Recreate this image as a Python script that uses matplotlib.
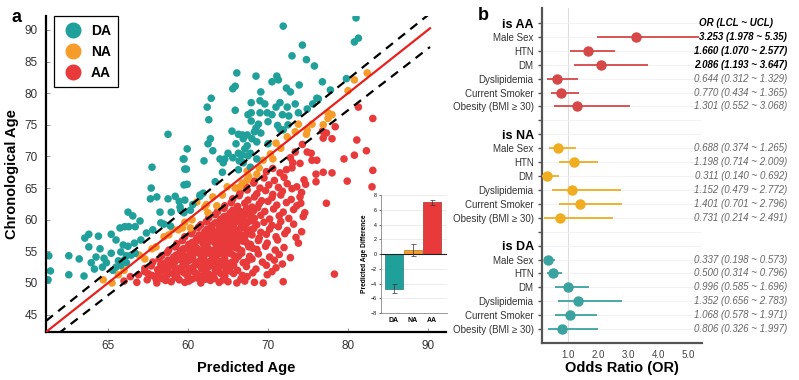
import numpy as np
import matplotlib
matplotlib.use('Agg')
import matplotlib.pyplot as plt
import matplotlib.transforms as mtransforms
from matplotlib.lines import Line2D

plt.rcParams['font.family'] = ['Liberation Sans', 'DejaVu Sans']

# ---- panel a: predicted vs chronological age ----
da_pts = [
    (71.9, 90.6), (81.0, 91.9), (81.3, 88.7), (80.8, 88.1), (74.3, 87.6), (73.0, 85.9),
    (74.8, 85.3), (75.8, 84.3), (66.1, 83.2), (68.5, 82.7), (71.1, 82.7), (71.3, 82.1),
    (70.5, 81.8), (65.6, 80.7), (65.9, 81.1), (69.1, 80.2), (72.3, 80.8), (72.8, 80.2),
    (73.9, 81.3), (62.9, 79.2), (62.4, 77.8), (65.9, 77.3), (67.9, 78.5), (69.0, 78.8),
    (69.6, 78.3), (71.5, 78.5), (71.0, 77.8), (72.4, 77.8), (73.4, 78.3), (75.6, 78.3),
    (76.3, 79.1), (62.6, 75.8), (67.5, 76.6), (67.9, 76.9), (69.0, 76.9), (69.9, 76.9),
    (70.5, 76.6), (71.8, 76.6), (72.6, 76.4), (73.8, 76.9), (74.9, 77.5), (67.9, 75.6),
    (68.8, 75.1), (68.5, 74.5), (70.0, 75.5), (69.1, 73.7), (68.3, 73.9), (71.5, 74.3),
    (72.5, 75.0), (71.9, 74.2), (65.5, 74.0), (66.3, 73.5), (66.8, 73.4), (67.4, 73.4),
    (68.0, 72.8), (66.0, 72.0), (66.9, 72.8), (67.4, 71.7), (68.6, 72.3), (70.0, 72.0),
    (62.8, 72.8), (62.5, 72.0), (63.1, 70.9), (59.9, 71.2), (59.5, 69.6), (62.0, 69.3),
    (59.8, 68.0), (64.3, 67.5), (65.0, 70.5), (64.6, 69.6), (64.0, 69.6), (64.4, 69.0),
    (65.6, 69.8), (66.3, 70.5), (66.8, 70.2), (67.1, 71.2), (67.5, 70.1), (66.4, 69.3),
    (66.9, 69.0), (67.8, 70.5), (66.3, 67.9), (67.8, 68.3), (68.6, 69.6), (71.2, 74.9),
    (76.8, 81.8), (77.8, 80.5), (79.8, 82.3), (76.1, 79.2), (57.5, 73.5), (55.5, 68.3),
    (59.4, 69.6), (59.6, 68.0),
    (55.4, 65.0), (55.3, 63.3), (57.5, 63.3), (58.9, 62.9), (59.5, 65.5), (52.5, 61.2),
    (53.1, 60.6), (56.5, 61.2), (57.9, 61.2), (59.1, 61.5), (51.5, 58.7), (52.1, 58.9),
    (52.6, 58.9), (53.4, 58.9), (54.0, 59.8), (56.6, 59.5), (57.0, 59.3), (55.6, 58.4),
    (54.8, 57.9), (47.1, 57.1), (47.6, 57.7), (48.8, 57.4), (50.4, 57.7), (51.0, 56.8),
    (51.9, 56.0), (52.5, 55.8), (53.3, 56.3), (54.1, 56.8), (47.6, 55.7), (49.0, 55.4),
    (50.4, 54.7), (51.6, 54.9), (52.3, 54.3), (52.9, 54.4), (53.4, 54.7), (52.0, 53.6),
    (51.3, 53.5), (45.1, 54.3), (46.4, 53.8), (47.9, 53.2), (48.5, 54.1), (49.5, 53.9),
    (49.8, 53.2), (49.3, 52.5), (48.3, 52.2), (42.6, 54.3), (42.8, 51.9), (42.5, 50.5),
    (45.1, 51.3), (47.0, 51.1), (50.6, 52.0), (51.0, 52.5), (51.6, 52.8), (52.3, 53.2),
    (56.1, 63.6), (58.4, 63.7), (59.6, 63.1), (59.0, 62.0), (61.5, 63.7), (61.9, 64.2),
    (57.8, 59.0), (59.9, 65.6), (63.4, 66.0), (61.5, 63.9), (60.3, 61.5), (60.6, 62.4),
    (59.5, 61.1),
]

na_pts = [
    (82.4, 83.2), (80.8, 82.1), (80.0, 80.4), (77.5, 76.9), (78.0, 76.6), (77.5, 76.0),
    (76.9, 75.0), (75.5, 75.1), (73.8, 75.1), (74.9, 74.2), (74.8, 73.5), (73.4, 73.9),
    (72.4, 73.1), (71.0, 72.1), (71.6, 71.3), (70.3, 70.4), (70.6, 69.6), (69.4, 69.4),
    (68.9, 68.2), (68.6, 67.2), (67.6, 66.8), (67.4, 66.3), (66.8, 65.8), (64.9, 65.2),
    (65.9, 65.0), (66.5, 65.2), (67.4, 67.7), (64.3, 63.9), (63.1, 63.6), (62.5, 61.1),
    (62.1, 62.0), (61.1, 62.8), (60.5, 60.0), (60.3, 58.7), (59.3, 58.7), (59.6, 59.6),
    (58.8, 58.4), (58.1, 58.5), (57.6, 57.6), (57.0, 57.3), (56.0, 55.7), (55.5, 55.4),
    (54.6, 53.8), (53.9, 54.4), (52.0, 52.0), (51.3, 51.3), (50.5, 50.0), (49.4, 50.5),
    (63.6, 62.2), (62.3, 62.4),
]

aa_pts = [
    (52.0, 50.3), (52.8, 51.0), (53.6, 50.1), (54.9, 50.5), (56.1, 50.0), (56.8, 50.7),
    (57.9, 50.2), (58.4, 50.9), (59.6, 50.1), (60.5, 50.6), (61.6, 50.0), (62.8, 50.4),
    (63.9, 50.1), (65.0, 50.2), (66.1, 50.0), (67.1, 50.3), (68.3, 50.1), (69.4, 50.0),
    (71.9, 50.2),
    (53.8, 51.3), (54.6, 51.8), (55.5, 51.2), (56.4, 51.6), (57.3, 51.1), (58.1, 51.5),
    (59.0, 51.9), (59.9, 51.2), (60.8, 51.7), (61.7, 51.0), (62.6, 51.4), (63.6, 51.8),
    (64.6, 51.1), (65.7, 51.5), (66.8, 51.2), (68.1, 51.6), (69.9, 51.3),
    (54.6, 52.3), (55.4, 52.7), (56.2, 52.1), (57.0, 52.5), (57.8, 52.9), (58.6, 52.2),
    (59.3, 52.6), (60.1, 52.0), (60.9, 52.8), (61.7, 52.3), (62.6, 52.6), (63.4, 52.1),
    (64.3, 52.7), (65.2, 52.4), (66.2, 52.0), (67.3, 52.6), (68.5, 52.2), (69.8, 52.8),
    (71.0, 52.4),
    (55.6, 53.3), (56.4, 53.8), (57.1, 53.1), (57.9, 53.5), (58.7, 53.9), (59.4, 53.2),
    (60.2, 53.6), (61.0, 53.0), (61.8, 53.7), (62.5, 53.3), (63.3, 53.9), (64.1, 53.4),
    (65.0, 53.0), (65.9, 53.6), (66.9, 53.2), (68.0, 53.8), (69.3, 53.3), (70.8, 53.6),
    (56.7, 54.3), (57.4, 54.8), (58.2, 54.1), (58.9, 54.6), (59.7, 54.0), (60.4, 54.5),
    (61.2, 54.9), (62.0, 54.2), (62.7, 54.7), (63.5, 54.1), (64.2, 54.6), (65.0, 54.9),
    (65.8, 54.3), (66.7, 54.7), (67.7, 54.2), (68.8, 54.6), (70.2, 54.1), (71.4, 54.5),
    (57.6, 55.2), (58.4, 55.7), (59.1, 55.1), (59.8, 55.5), (60.6, 55.9), (61.3, 55.3),
    (62.1, 55.8), (62.8, 55.0), (63.6, 55.5), (64.3, 55.9), (65.1, 55.2), (65.9, 55.6),
    (66.7, 55.1), (67.6, 55.7), (68.6, 55.3), (69.7, 55.8), (70.9, 55.2), (72.0, 55.6),
    (58.6, 56.2), (59.3, 56.7), (60.1, 56.1), (60.8, 56.5), (61.6, 56.9), (62.3, 56.3),
    (63.0, 56.8), (63.8, 56.0), (64.5, 56.5), (65.3, 56.9), (66.1, 56.2), (66.9, 56.6),
    (67.8, 56.1), (68.8, 56.7), (69.9, 56.3), (71.2, 56.8),
    (59.6, 57.3), (60.4, 57.8), (61.1, 57.1), (61.8, 57.5), (62.5, 57.9), (63.3, 57.2),
    (64.0, 57.7), (64.8, 57.0), (65.5, 57.4), (66.3, 57.9), (67.1, 57.3), (68.0, 57.6),
    (68.9, 57.1), (69.8, 57.7), (71.0, 57.3), (72.1, 57.8),
    (60.6, 58.3), (61.3, 58.8), (62.1, 58.1), (62.8, 58.6), (63.5, 58.0), (64.3, 58.5),
    (65.0, 58.9), (65.8, 58.2), (66.6, 58.7), (67.4, 58.1), (68.2, 58.6), (69.1, 58.0),
    (70.2, 58.5), (71.3, 58.9), (72.4, 58.3),
    (61.6, 59.2), (62.3, 59.7), (63.0, 59.1), (63.8, 59.6), (64.6, 59.0), (65.3, 59.5),
    (66.1, 59.9), (66.9, 59.3), (67.7, 59.8), (68.6, 59.2), (69.5, 59.6), (70.5, 59.1),
    (71.6, 59.7), (73.2, 59.3),
    (62.6, 60.3), (63.4, 60.8), (64.1, 60.1), (64.9, 60.6), (65.7, 60.0), (66.6, 60.5),
    (67.4, 60.9), (68.3, 60.2), (69.1, 60.7), (70.2, 60.1), (71.4, 60.6), (72.6, 60.2),
    (74.4, 60.5),
    (63.7, 61.3), (64.5, 61.8), (65.3, 61.1), (66.0, 61.6), (66.9, 61.0), (67.8, 61.5),
    (68.7, 61.9), (69.6, 61.3), (70.7, 61.7), (71.9, 61.2), (73.2, 61.6), (74.6, 61.1),
    (64.6, 62.2), (65.4, 62.7), (66.2, 62.1), (67.1, 62.6), (68.0, 62.0), (68.9, 62.5),
    (70.0, 62.9), (71.1, 62.3), (72.3, 62.7), (73.6, 62.2), (74.1, 62.6),
    (65.6, 63.3), (66.4, 63.8), (67.5, 63.1), (68.3, 63.6), (69.2, 63.0), (70.5, 63.5),
    (71.6, 63.9), (72.9, 63.2), (74.0, 63.6),
    (66.5, 64.2), (67.4, 64.7), (68.6, 64.1), (69.7, 64.6), (70.6, 64.0), (71.8, 64.5),
    (73.0, 64.9), (74.2, 64.3),
    (67.3, 65.2), (68.2, 65.8), (69.0, 65.0), (70.1, 65.5), (71.3, 65.1), (72.4, 65.7),
    (73.6, 65.2), (74.7, 65.6),
    (68.3, 66.1), (69.5, 66.6), (70.8, 66.2), (72.0, 66.7), (74.5, 66.3),
    (69.8, 67.6), (70.6, 68.1), (71.5, 67.4), (72.3, 67.9), (73.0, 68.2), (73.1, 69.0),
    (74.0, 68.9), (72.8, 69.8), (73.4, 70.7), (74.3, 71.9), (74.9, 70.7), (75.5, 69.4),
    (76.0, 67.2), (76.9, 67.5), (78.0, 67.4), (83.1, 67.8), (76.0, 66.0), (79.9, 66.1),
    (83.0, 65.2), (77.3, 62.6), (78.3, 51.4), (81.3, 77.8), (83.1, 76.0), (78.4, 74.7),
    (76.8, 74.0), (77.3, 73.7), (76.9, 72.9), (78.0, 72.8), (81.1, 72.6), (82.3, 70.9),
    (80.8, 70.2), (79.5, 69.6), (76.1, 69.4), (75.4, 70.5),
    # the dense core of the cluster
    (56.0, 50.6), (57.2, 50.4), (58.9, 50.5), (60.1, 50.3), (61.1, 50.8), (62.2, 50.6),
    (63.3, 50.7), (64.4, 50.5), (66.6, 50.6),
    (55.0, 51.5), (56.0, 51.0), (56.9, 51.9), (57.7, 51.6), (58.6, 51.0), (59.5, 51.6),
    (60.3, 51.9), (61.2, 51.4), (62.1, 51.8), (63.1, 51.2), (64.1, 51.5), (65.2, 51.9),
    (67.4, 51.0),
    (56.6, 52.9), (57.4, 52.2), (58.2, 52.6), (59.0, 52.3), (59.7, 52.9), (60.5, 52.4),
    (61.3, 52.9), (62.2, 52.0), (63.0, 52.8), (63.8, 52.4), (64.8, 52.1), (65.7, 52.8),
    (57.5, 53.6), (58.3, 53.2), (59.0, 53.7), (59.8, 53.4), (60.6, 53.9), (61.4, 53.4),
    (62.1, 53.1), (62.9, 53.6), (63.7, 53.1), (64.6, 53.7), (65.5, 53.3), (67.4, 53.4),
    (58.5, 54.4), (59.3, 54.8), (60.0, 54.3), (60.8, 54.7), (61.6, 54.4), (62.4, 54.9),
    (63.1, 54.4), (63.9, 54.8), (64.6, 54.3), (65.4, 54.6), (66.3, 54.2),
    (59.4, 55.4), (60.2, 55.2), (61.0, 55.6), (61.7, 55.1), (62.5, 55.5), (63.2, 55.2),
    (64.0, 55.7), (64.7, 55.4), (65.5, 55.9), (66.3, 55.4), (68.1, 55.5),
    (60.5, 56.4), (61.2, 56.7), (61.9, 56.2), (62.7, 56.6), (63.4, 56.3), (64.1, 56.8),
    (64.9, 56.2), (65.7, 56.5), (66.5, 56.9), (67.3, 56.4),
    (61.4, 57.6), (62.1, 57.2), (62.9, 57.5), (63.6, 57.8), (64.4, 57.3), (65.1, 57.7),
    (65.9, 57.2), (66.7, 57.6), (67.5, 57.9),
    (62.4, 58.5), (63.1, 58.2), (63.9, 58.7), (64.6, 58.3), (65.4, 58.6), (66.2, 58.3),
    (67.0, 58.8), (67.8, 58.4),
    (63.4, 59.5), (64.2, 59.3), (64.9, 59.8), (65.7, 59.2), (66.5, 59.6), (67.3, 59.4),
    (68.1, 59.8),
    (64.5, 60.5), (65.3, 60.3), (66.1, 60.8), (66.9, 60.3), (67.8, 60.7),
    (65.6, 61.5), (66.5, 61.3), (67.3, 61.8), (68.2, 61.4),
    (73.5, 57.2), (74.2, 58.1), (73.8, 56.3), (72.8, 54.0), (71.8, 53.0), (70.5, 51.8),
]

# identity line and the dashed band around it
line_x = [42.25, 90.25]
band_upper = [44.0, 92.6]
band_lower = [40.5, 87.3]

xtick_vals = [50, 60, 70, 80, 90]
xtick_labels = ['65', '60', '70', '80', '90']
ytick_vals = [45, 50, 55, 60, 65, 70, 75, 80, 85, 90]

# inset: mean predicted age difference per group
groups = ['DA', 'NA', 'AA']
diff_mean = [-4.7, 0.5, 7.0]
diff_err = [0.6, 0.8, 0.35]

# ---- panel b: odds ratios ----
row_names = ['Male Sex', 'HTN', 'DM', 'Dyslipidemia', 'Current Smoker', 'Obesity (BMI ≥ 30)']

or_aa = ['3.253', '1.660', '2.086', '0.644', '0.770', '1.301']
lcl_aa = ['1.978', '1.070', '1.193', '0.312', '0.434', '0.552']
ucl_aa = ['5.35', '2.577', '3.647', '1.329', '1.365', '3.068']
sig_aa = [True, True, True, False, False, False]

or_na = ['0.688', '1.198', '0.311', '1.152', '1.401', '0.731']
lcl_na = ['0.374', '0.714', '0.140', '0.479', '0.701', '0.214']
ucl_na = ['1.265', '2.009', '0.692', '2.772', '2.796', '2.491']
sig_na = [False] * 6

or_da = ['0.337', '0.500', '0.996', '1.352', '1.068', '0.806']
lcl_da = ['0.198', '0.314', '0.585', '0.656', '0.578', '0.326']
ucl_da = ['0.573', '0.796', '1.696', '2.783', '1.971', '1.997']
sig_da = [False] * 6

c_da, c_na, c_aa = '#20a09b', '#f59c2a', '#e83a3a'
cb_da, cb_na, cb_aa = '#3aa3a0', '#efad1f', '#d64848'


def main():
    fig = plt.figure(figsize=(7.99, 3.8), dpi=100)

    # ---------------- panel a ----------------
    ax = fig.add_axes([0.0576, 0.1263, 0.5006, 0.8316])
    for pts, col in [(aa_pts, c_aa), (na_pts, c_na), (da_pts, c_da)]:
        p = np.array(pts)
        ax.scatter(p[:, 0], p[:, 1], s=30, color=col, edgecolors='none', zorder=2)
    ax.plot(line_x, line_x, color='#e8201e', lw=1.6, zorder=3)
    ax.plot(line_x, band_upper, color='black', lw=1.6, ls=(0, (4, 3)), zorder=3)
    ax.plot(line_x, band_lower, color='black', lw=1.6, ls=(0, (4, 3)), zorder=3)

    ax.set_xlim(42.25, 92.25)
    ax.set_ylim(42.25, 92.2)
    ax.set_xticks(xtick_vals)
    ax.set_xticklabels(xtick_labels)
    ax.set_yticks(ytick_vals)
    for s in ['top', 'right']:
        ax.spines[s].set_visible(False)
    for s in ['left', 'bottom']:
        ax.spines[s].set_linewidth(1.6)
    ax.tick_params(direction='in', length=3, width=0.6, color='#888888',
                   labelsize=8.5, labelcolor='#333333', pad=6)
    ax.set_xlabel('Predicted Age', fontsize=10.5, fontweight='bold', labelpad=6)
    ax.set_ylabel('Chronological Age', fontsize=10.5, fontweight='bold', labelpad=4)

    handles = [Line2D([], [], marker='o', ls='none', markersize=10.5, color=c)
               for c in (c_da, c_na, c_aa)]
    leg = ax.legend(handles, groups, loc='upper left', bbox_to_anchor=(0.02, 1.0),
                    borderaxespad=0, fancybox=False, edgecolor='black', framealpha=1,
                    prop={'weight': 'bold', 'size': 10}, handletextpad=0.5,
                    handlelength=1.6, labelspacing=0.5, borderpad=0.55)
    leg.get_frame().set_linewidth(0.9)

    fig.text(0.015, 0.955, 'a', fontsize=13, fontweight='bold', va='center')

    # inset bar chart
    ins = fig.add_axes([0.4768, 0.1763, 0.0826, 0.3105])
    xs = np.arange(len(groups))
    ins.bar(xs, diff_mean, width=0.95, color=[c_da, c_na, c_aa],
            edgecolor=['#2a7a78', '#b57a26', '#a83030'], linewidth=0.5, zorder=2)
    ins.errorbar(xs, diff_mean, yerr=diff_err, fmt='none', ecolor='#333333',
                 elinewidth=0.5, capsize=1.8, capthick=0.5, zorder=3)
    ins.axhline(0, color='#222222', lw=0.8, zorder=3)
    ins.set_xlim(-0.68, 2.8)
    ins.set_ylim(-8, 8)
    ins.set_yticks(np.arange(-8, 9, 2))
    ins.set_xticks(xs)
    ins.set_xticklabels(groups, fontsize=5, fontweight='bold')
    ins.tick_params(axis='y', labelsize=3.8, length=1.5, width=0.4, pad=1.5)
    ins.tick_params(axis='x', length=0, pad=3)
    ins.grid(axis='y', color='#e4e4e4', lw=0.5, zorder=0)
    ins.set_axisbelow(True)
    for s in ['top', 'right']:
        ins.spines[s].set_visible(False)
    for s in ['left', 'bottom']:
        ins.spines[s].set_color('#888888')
        ins.spines[s].set_linewidth(0.6)
    ins.set_ylabel('Predicted Age Difference', fontsize=4.8, fontweight='bold', labelpad=2)

    # ---------------- panel b ----------------
    axb = fig.add_axes([0.6783, 0.0974, 0.2003, 0.8816])
    blocks = [('is AA', or_aa, lcl_aa, ucl_aa, sig_aa, cb_aa),
              ('is NA', or_na, lcl_na, ucl_na, sig_na, cb_na),
              ('is DA', or_da, lcl_da, ucl_da, sig_da, cb_da)]
    trans = mtransforms.blended_transform_factory(fig.transFigure, axb.transData)

    ypos, ylabs, heads = [], [], []
    for k, (title, o, lo, hi, sig, col) in enumerate(blocks):
        base = 8 * k
        ypos.append(base)
        ylabs.append(title)
        heads.append(True)
        for i, name in enumerate(row_names):
            y = base + 1 + i
            axb.plot([float(lo[i]), float(hi[i])], [y, y], color=col, lw=1.3,
                     solid_capstyle='butt', zorder=3, clip_on=False)
            axb.plot(float(o[i]), y, 'o', color=col, markersize=6.5, zorder=4,
                     clip_on=False)
            ypos.append(y)
            ylabs.append(name)
            heads.append(False)
            txt = '%s (%s ~ %s)' % (o[i], lo[i], hi[i])
            if sig[i]:
                axb.text(0.985, y, txt, transform=trans, ha='right', va='center',
                         fontsize=7, style='italic', fontweight='bold', color='black')
            else:
                axb.text(0.985, y, txt, transform=trans, ha='right', va='center',
                         fontsize=7, style='italic', color='#666666')
        if k < 2:
            ypos.append(base + 7)
            ylabs.append('')
            heads.append(False)

    axb.text(0.875, 0, 'OR (LCL ~ UCL)', transform=trans, ha='left', va='center',
             fontsize=7, style='italic', fontweight='bold')

    axb.set_yticks(ypos)
    axb.set_yticklabels(ylabs)
    for lab, h in zip(axb.get_yticklabels(), heads):
        if h:
            lab.set_fontsize(9)
            lab.set_fontweight('bold')
            lab.set_color('black')
        else:
            lab.set_fontsize(7)
            lab.set_color('#333333')
    axb.set_ylim(23.0, -1.08)
    axb.set_xlim(0.14, 5.45)
    axb.set_xticks([1, 2, 3, 4, 5])
    axb.set_xticklabels(['1.0', '2.0', '3.0', '4.0', '5.0'])
    axb.tick_params(axis='x', length=0, labelsize=7, labelcolor='#444444', pad=5)
    axb.tick_params(axis='y', length=3, width=1, color='#555555', pad=3)
    axb.grid(axis='y', color='#f0f0f0', lw=0.6, zorder=0)
    axb.axvline(1, color='#dddddd', lw=0.8, zorder=1)
    for s in ['top', 'right']:
        axb.spines[s].set_visible(False)
    for s in ['left', 'bottom']:
        axb.spines[s].set_color('#555555')
        axb.spines[s].set_linewidth(1.6)
    axb.set_xlabel('Odds Ratio (OR)', fontsize=10.5, fontweight='bold', labelpad=1)

    fig.text(0.598, 0.96, 'b', fontsize=13, fontweight='bold', va='center')

    fig.savefig('out.png', dpi=100)


if __name__ == '__main__':
    main()
